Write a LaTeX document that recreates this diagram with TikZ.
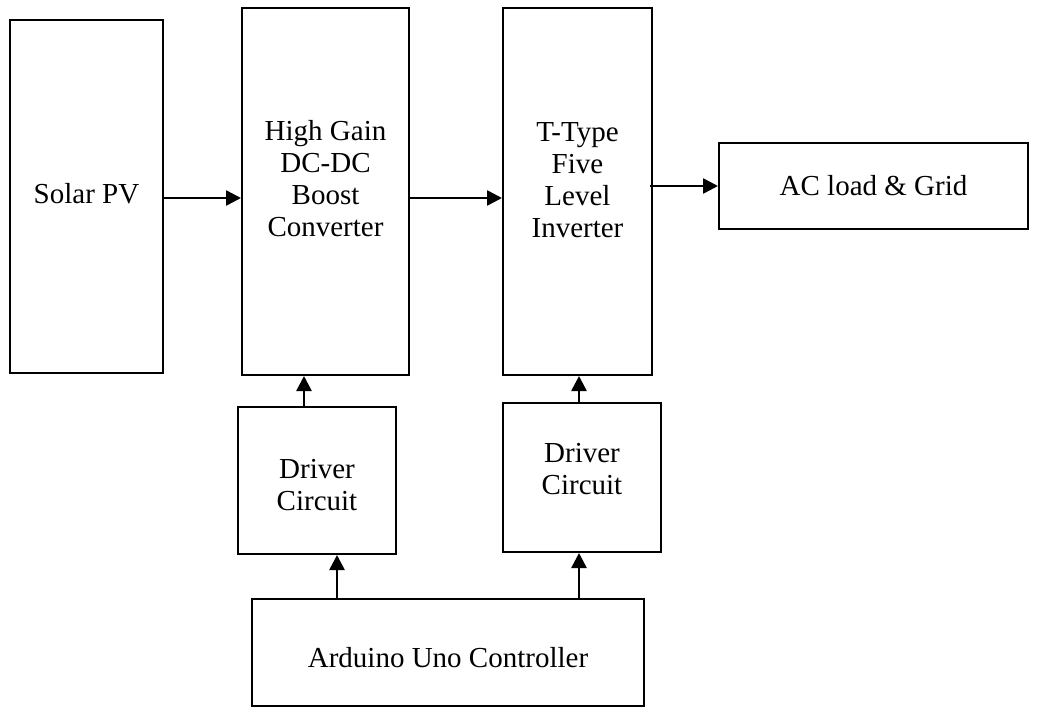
\documentclass[tikz,border=0pt]{standalone}
\usepackage{fontspec}
\setmainfont{Liberation Serif}
\usetikzlibrary{arrows.meta}
\begin{document}
\begin{tikzpicture}[x=0.5pt,y=-0.5pt,
  box/.style={draw, line width=1pt, inner sep=0pt},
  lbl/.style={inner sep=0pt, align=center, font=\fontsize{14.5}{16}\selectfont},
  arr/.style={line width=1.3pt, -{Triangle[length=7.5pt,width=7.5pt]}}]
\useasboundingbox (0,0) rectangle (1038,707);
% blocks of the power stage
\node[box, minimum width=76.5pt, minimum height=176.5pt] (solar) at (86.5,196.5) {};
\node[lbl] (solart) at (86.5,194) {Solar PV};
\node[box, minimum width=83.5pt, minimum height=183.5pt] (hg) at (325.5,191.5) {};
\node[lbl] (hgt) at (325.5,179) {High Gain\\DC-DC\\Boost\\Converter};
\node[box, minimum width=74.5pt, minimum height=183.5pt] (tt) at (577.5,191.5) {};
\node[lbl] (ttt) at (577.5,180) {T-Type\\Five\\Level\\Inverter};
\node[box, minimum width=154.5pt, minimum height=43pt] (ac) at (873.5,186) {};
\node[lbl] (act) at (873.5,186) {AC load \& Grid};
% control stage
\node[box, minimum width=79pt, minimum height=73.5pt] (dr1) at (317,480.5) {};
\node[lbl] (dr1t) at (317,485) {Driver\\Circuit};
\node[box, minimum width=79pt, minimum height=74.5pt] (dr2) at (582,477.5) {};
\node[lbl] (dr2t) at (582,469) {Driver\\Circuit};
\node[box, minimum width=196pt, minimum height=53.5pt] (ard) at (448,652.5) {};
\node[lbl] (ardt) at (448,658) {Arduino Uno Controller};
% power flow
\draw[arr] (solar.east |- 0,198) -- (hg.west |- 0,198);
\draw[arr] (hg.east |- 0,198) -- (tt.west |- 0,198);
\draw[arr] ([xshift=-1.5pt]tt.east |- ac.west) -- (ac.west);
% gate signals
\draw[arr] (dr1.north -| 304,0) -- (hg.south -| 304,0);
\draw[arr] (dr2.north -| 579,0) -- (tt.south -| 579,0);
\draw[arr] (ard.north -| 337,0) -- (dr1.south -| 337,0);
\draw[arr] (ard.north -| 579,0) -- (dr2.south -| 579,0);
\end{tikzpicture}
\end{document}
